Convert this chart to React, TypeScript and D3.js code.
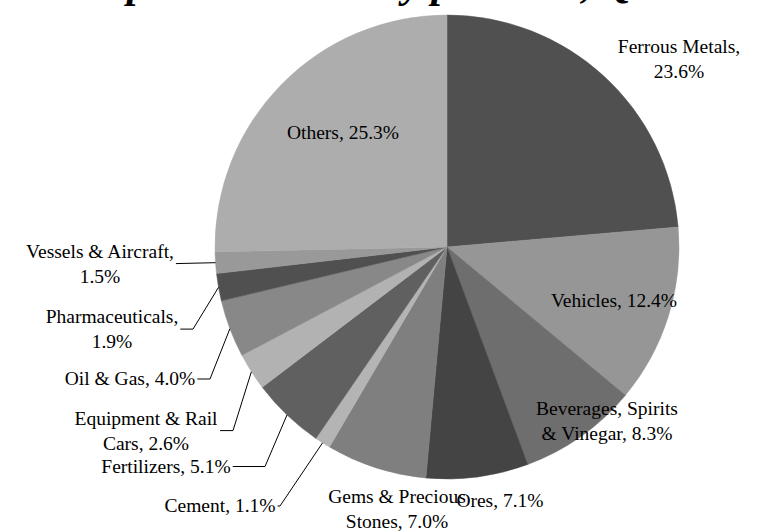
import React, { useEffect, useRef } from 'react';
import * as d3 from 'd3';

// export shares by commodity group, %
const categories = [
  'Ferrous Metals',
  'Vehicles',
  'Beverages, Spirits & Vinegar',
  'Ores',
  'Gems & Precious Stones',
  'Cement',
  'Fertilizers',
  'Equipment & Rail Cars',
  'Oil & Gas',
  'Pharmaceuticals',
  'Vessels & Aircraft',
  'Others',
];
const shares = [23.6, 12.4, 8.3, 7.1, 7.0, 1.1, 5.1, 2.6, 4.0, 1.9, 1.5, 25.3];
const sliceColors = [
  '#505050', '#969696', '#6e6e6e', '#444444', '#7f7f7f', '#b4b4b4',
  '#606060', '#b2b2b2', '#888888', '#505050', '#999999', '#adadad',
];
const title = 'Export Structure by products, Q1 2012';

// label placement: block centre, words on first line, leader bend (0 = inside, no leader)
const labelLayout = [
  { x: 679, y: 58.6, words: 2, bend: 0 },
  { x: 614, y: 300.6, words: 0, bend: 0 },
  { x: 607, y: 421.1, words: 2, bend: 0 },
  { x: 500, y: 501.0, words: 0, bend: 0 },
  { x: 397, y: 509.0, words: 3, bend: 0 },
  { x: 220, y: 506.0, words: 0, bend: 280 },
  { x: 166, y: 466.5, words: 0, bend: 265 },
  { x: 146, y: 430.6, words: 3, bend: 233 },
  { x: 130, y: 379.0, words: 0, bend: 210 },
  { x: 112, y: 329.1, words: 1, bend: 193 },
  { x: 100, y: 263.6, words: 3, bend: -1 },
  { x: 343, y: 132.6, words: 0, bend: 0 },
];

const W = 760;
const H = 532;
const cx = 447;
const cy = 247;
const radius = 232;
const fontSize = 19.5;
const lineH = 25;

export default function App() {
  const ref = useRef<SVGSVGElement>(null);

  useEffect(() => {
    const svg = d3.select(ref.current);
    svg.selectAll('*').remove();

    // title sits mostly above the top edge, only descenders show
    svg
      .append('text')
      .attr('x', 78)
      .attr('y', -3)
      .attr('font-family', "'Liberation Serif', 'Times New Roman', serif")
      .attr('font-weight', 'bold')
      .attr('font-style', 'italic')
      .attr('font-size', 42)
      .text(title);

    const data = categories.map((c, i) => ({ name: c, value: shares[i], i }));
    const pie = d3
      .pie<any>()
      .value((d) => d.value)
      .sort(null);
    const arcs = pie(data);
    const arc = d3.arc<any>().innerRadius(0).outerRadius(radius);

    const g = svg.append('g').attr('transform', `translate(${cx},${cy})`);
    g.selectAll('path')
      .data(arcs)
      .enter()
      .append('path')
      .attr('d', arc)
      .attr('fill', (d) => sliceColors[d.data.i])
      .attr('stroke', (d) => sliceColors[d.data.i])
      .attr('stroke-width', 0.5);

    const labels = svg
      .append('g')
      .attr('font-family', "'Liberation Serif', 'Times New Roman', serif")
      .attr('font-size', fontSize)
      .attr('fill', '#000');

    arcs.forEach((a) => {
      const i = a.data.i;
      const lay = labelLayout[i];
      const full = `${a.data.name}, ${a.data.value.toFixed(1)}%`;
      const words = full.split(' ');
      const lines = lay.words > 0 ? [words.slice(0, lay.words).join(' '), words.slice(lay.words).join(' ')] : [full];
      const t = labels.append('text').attr('text-anchor', 'middle');
      lines.forEach((ln, k) => {
        t.append('tspan')
          .attr('x', lay.x)
          .attr('y', lay.y + (k - (lines.length - 1) / 2) * lineH + 0.33 * fontSize)
          .text(ln);
      });

      if (lay.bend !== 0) {
        const box = (t.node() as SVGTextElement).getBBox();
        const startX = box.x + box.width + 2;
        const mid = (a.startAngle + a.endAngle) / 2;
        const ex = cx + radius * Math.sin(mid);
        const ey = cy - radius * Math.cos(mid);
        const bx = lay.bend > 0 ? lay.bend : startX;
        const path = d3.path();
        path.moveTo(startX, lay.y);
        path.lineTo(bx, lay.y);
        path.lineTo(ex, ey);
        svg
          .append('path')
          .attr('d', path.toString())
          .attr('fill', 'none')
          .attr('stroke', '#000')
          .attr('stroke-width', 1);
      }
    });
  }, []);

  return (
    <svg
      ref={ref}
      width={W}
      height={H}
      style={{ position: 'absolute', left: 0, top: 0, background: '#fff' }}
    />
  );
}
